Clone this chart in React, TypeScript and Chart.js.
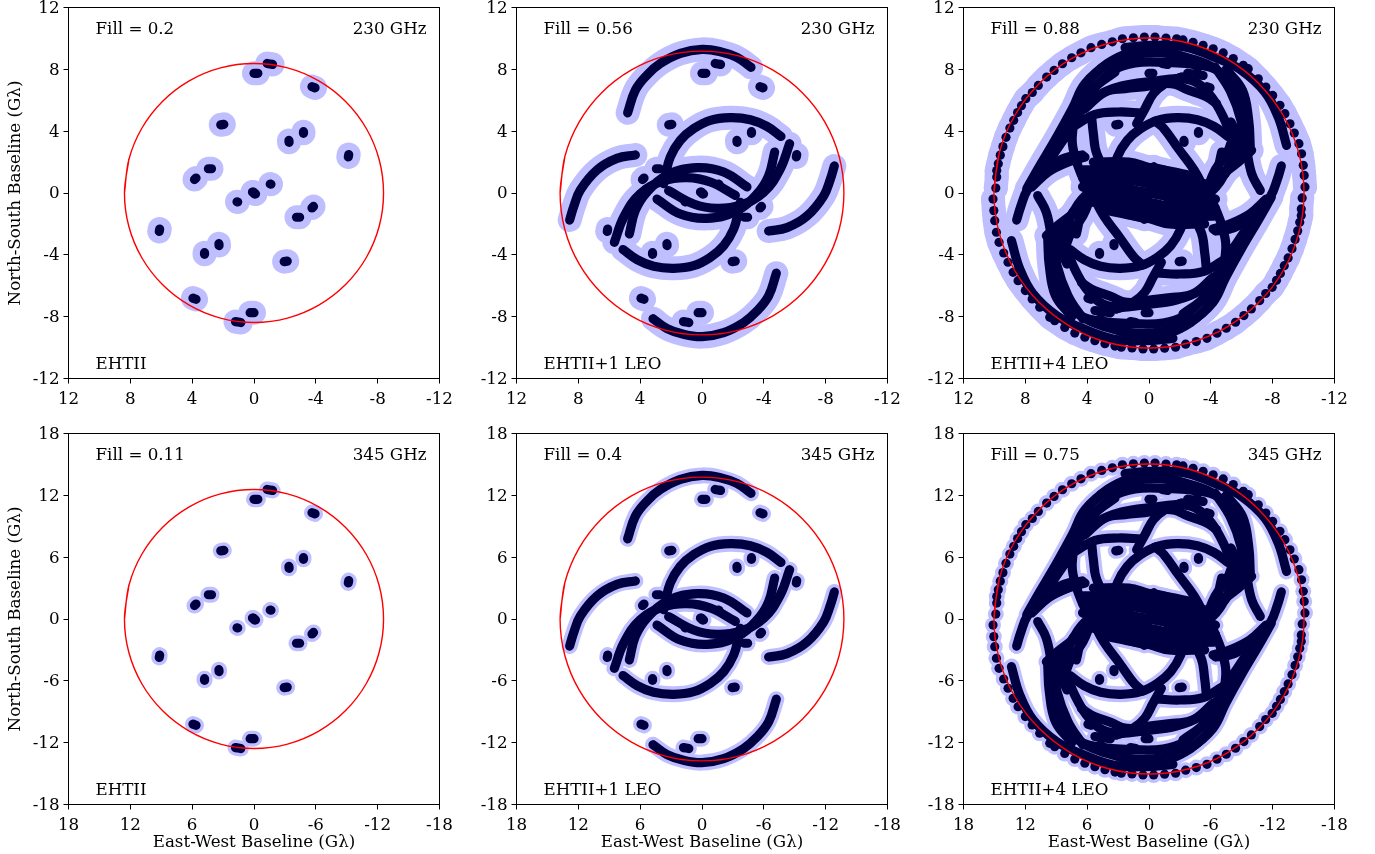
import React, { useEffect, useRef } from "react";
import { Chart, registerables } from "chart.js";

Chart.register(...registerables);

type Track = number[][];

// Values are read in 230 GHz baseline units (G-lambda). Each track also has its conjugate (-u,-v).
const eht2Tracks: Track[] = [
  [[-0.85, 8.38], [-1.2, 8.32]],
  [[0.0, 7.74], [-0.25, 7.74]],
  [[-3.75, 6.88], [-3.95, 6.8]],
  [[2.15, 4.41], [1.95, 4.44]],
  [[-3.2, 3.97], [-3.2, 3.86]],
  [[-2.26, 3.4], [-2.27, 3.28]],
  [[-6.13, 2.49], [-6.1, 2.33]],
  [[2.95, 1.57], [2.75, 1.57]],
  [[3.85, 0.87], [3.75, 0.97]],
  [[-1.05, 0.58], [-1.1, 0.57]],
  [[0.04, 0.06], [-0.1, -0.06]],
];

const leoOneTracks: Track[] = [
  [[4.81, 5.19], [4.31, 6.66], [3.56, 7.63], [2.69, 8.38], [1.4, 9.03], [0, 9.29], [-1.19, 9.14], [-2.26, 8.77], [-3.17, 8.13]],
  [[-5.11, 3.66], [-4.2, 4.31], [-3.13, 4.74], [-1.83, 4.87], [-0.54, 4.7], [0.54, 4.16], [1.4, 3.41], [2.05, 2.33], [2.37, 1.14], [2.48, 0.6]],
  [[4.7, -2.65], [4.31, -1.12], [3.56, 0.06], [2.16, 1.21], [0.32, 1.64], [-1.4, 1.36], [-2.91, 0.39]],
  [[5.67, -3.19], [5.06, -1.55], [3.99, -0.04], [2.48, 0.78], [0.97, 0.99], [-0.54, 0.71], [-2.16, -0.15]],
  [[4.31, 2.46], [5.5, 2.24], [6.79, 1.49], [7.87, 0.19], [8.3, -0.88], [8.56, -1.75]],
];

const leoFourTracks: Track[] = [
  [[7.91, 0.28], [7.05, 1.79], [5.97, 3.62], [4.96, 5.45], [4.14, 7.07], [2.63, 8.36], [0.91, 8.96], [-1.03, 9.05], [-2.76, 8.68], [-4.27, 8.04], [-5.78, 6.64]],
  [[5.3, 3.6], [4.46, 5.45], [3.6, 6.75], [2.2, 7.82]],
  [[6.6, 1.9], [5.7, 3.2], [4.9, 4.4]],
  [[1.55, 9.4], [-0.2, 9.55], [-2.33, 9.44], [-4.48, 8.68], [-5.99, 7.93], [-7.5, 6.53], [-8.36, 4.91], [-8.9, 3.08]],
  [[4.57, 5.13], [3.28, 6.31], [1.77, 6.92], [-0.17, 7.22], [-2.11, 7.39], [-3.19, 7.07], [-4.05, 6.21], [-4.81, 4.91], [-5.24, 3.84]],
  [[4.14, 5.45], [2.84, 6.53], [1.55, 6.75], [-0.17, 6.96], [-2.11, 7.5]],
  [[-2.5, 7.75], [-3.5, 7.6]],
  [[3.71, 6.64], [2.31, 7.93], [0.91, 8.41], [-0.82, 8.46], [-3.4, 8.25], [-4.59, 7.82], [-5.56, 6.64], [-6.1, 4.91], [-6.31, 2.96], [-6.64, 1.25], [-7.2, 0.17]],
  [[-4.27, 8.15], [-5.24, 6.64], [-5.95, 4.7], [-6.1, 3.2]],
  [[-5.0, 8.0], [-6.05, 6.64], [-6.45, 4.7], [-6.55, 3.0]],
  [[-0.82, 7.11], [-1.68, 7.03], [-2.33, 6.75], [-3.08, 6.47], [-3.73, 6.21], [-4.37, 5.78]],
  [[-2.11, 7.5], [-1.03, 7.07], [-0.28, 6.42], [0.26, 5.45], [0.8, 4.48]],
  [[4.78, 4.37], [3.49, 5.09], [1.98, 5.24], [0.47, 5.17]],
  [[3.71, 4.91], [3.6, 3.84], [3.38, 2.54], [2.63, 1.25], [1.55, 0.17]],
  [[4.89, 4.48], [4.96, 3.19], [4.57, 1.68], [3.92, 0.17]],
  [[7.59, 0.39], [6.51, 1.36], [5.22, 2.0], [4.14, 2.33]],
  [[-0.39, 4.66], [-0.97, 4.16], [-1.9, 2.87], [-2.93, 1.47], [-3.62, 0.17]],
  [[-3.19, 0.17], [-4.48, 1.03], [-5.78, 2.0], [-6.64, 2.76]],
  [[-5.45, 3.62], [-5.02, 2.54], [-4.27, 1.47], [-3.73, 0.17]],
  [[-5.3, 4.6], [-5.85, 3.3], [-5.5, 2.2], [-4.9, 1.2]],
  [[3.6, 2.0], [1.3, 2.0], [0, 1.65], [-1.4, 1.4], [-2.6, 1.15]],
  [[4.2, 1.5], [2, 1.5], [-0.5, 1.1], [-2, 0.9], [-3.6, 0.6]],
  [[4.3, 1.0], [2, 0.95], [-0.5, 0.5], [-3, 0.05], [-4.3, -0.4]],
  [[4.0, 0.3], [2, 0.3], [0, 0], [-2, -0.3], [-4, -0.3]],
  [[3.5, 2.0], [2.5, 1.0], [1.5, 0.2], [0.5, -0.6], [-0.5, -1.5]],
  [[1.8, 1.9], [0.8, 1.3], [-0.2, 0.5], [-1.2, -0.3], [-2.4, -1.0]],
  [[-0.3, 1.7], [-1.0, 1.2], [-1.9, 0.4], [-2.9, -0.2]],
  [[3.6, 0.9], [3.2, 0.1], [2.5, -0.7]],
];

const outerRingPoints: Track = [
  [9.91, 0.32], [9.85, 1.03], [9.85, 1.45], [9.75, 1.9], [9.62, 2.45], [9.45, 3.0], [9.25, 3.6], [9.0, 4.2], [8.75, 4.7], [8.5, 5.2], [8.25, 5.65], [7.97, 6.1], [7.55, 6.5], [7.16, 6.96], [6.62, 7.5], [6.14, 7.93],
  [5.6, 8.36], [5.0, 8.75], [4.4, 9.07], [3.75, 9.4], [3.06, 9.61], [2.37, 9.78], [1.72, 9.98], [1.01, 10.04], [0.3, 10.09], [-0.39, 10.09],
  [-1.1, 10.02], [-1.79, 9.98], [-2.2, 9.9], [-2.85, 9.75], [-3.5, 9.55], [-4.15, 9.33], [-4.8, 9.06], [-5.45, 8.7], [-6.1, 8.26], [-6.42, 8.04], [-7.07, 7.39],
  [-7.56, 6.85], [-8.0, 6.31], [-8.47, 5.67], [-8.79, 5.13], [-9.12, 4.48], [-9.4, 3.88], [-9.7, 3.19], [-9.87, 2.54], [-9.98, 1.79], [-10.04, 1.14], [-10.09, 0.39],
];

// Unit directions for the red maximum-baseline circle.
const unitCircle: Track = [
  [1, 0], [0.966, 0.259], [0.866, 0.5], [0.707, 0.707], [0.5, 0.866], [0.259, 0.966], [0, 1], [-0.259, 0.966], [-0.5, 0.866], [-0.707, 0.707], [-0.866, 0.5], [-0.966, 0.259],
  [-1, 0], [-0.966, -0.259], [-0.866, -0.5], [-0.707, -0.707], [-0.5, -0.866], [-0.259, -0.966], [0, -1], [0.259, -0.966], [0.5, -0.866], [0.707, -0.707], [0.866, -0.5], [0.966, -0.259],
  [1, 0], [0.966, 0.259],
];

const fillLabels = ["Fill = 0.2", "Fill = 0.56", "Fill = 0.88", "Fill = 0.11", "Fill = 0.4", "Fill = 0.75"];
const arrayLabels = ["EHTII", "EHTII+1 LEO", "EHTII+4 LEO", "EHTII", "EHTII+1 LEO", "EHTII+4 LEO"];
const freqLabels = ["230 GHz", "345 GHz"];
const freqFactor = [1, 1.5];
const axisLimit = [12, 18];
const axisStep = [4, 6];
const circleRadius = [8.38, 9.18, 10.03];
const xTitle = "East-West Baseline (G\u03bb)";
const yTitle = "North-South Baseline (G\u03bb)";

const FONT = '"DejaVu Serif"';
const FONT_SIZE = 16.7;
const HALO = "#bfbfff";
const DARK = "#000040";
const plotLeft = [68, 516, 963];
const plotTop = [7, 433];
const PLOT = 371;
const MARGIN_LEFT = 68;
const MARGIN_TOP = 14;
const MARGIN_RIGHT = 32;
const MARGIN_BOTTOM = 49;

function pts(track: Track, k: number) {
  return track.map(([u, v]) => ({ x: u * k, y: v * k }));
}

function buildDatasets(col: number, row: number) {
  const f = freqFactor[row];
  const haloWidth = row === 0 ? 24 : 16;
  const tracks: Track[] = [...eht2Tracks];
  if (col >= 1) tracks.push(...leoOneTracks);
  if (col === 2) tracks.push(...leoFourTracks);
  const sets: any[] = [];
  const line = (data: any[], color: string, width: number, order: number) => ({
    data,
    showLine: true,
    borderColor: color,
    borderWidth: width,
    borderCapStyle: "round",
    borderJoinStyle: "round",
    tension: 0.4,
    pointRadius: 0,
    order,
  });
  for (const t of tracks) {
    for (const s of [f, -f]) {
      sets.push(line(pts(t, s), HALO, haloWidth, 3));
      sets.push(line(pts(t, s), DARK, 9.2, 2));
    }
  }
  if (col === 2) {
    for (const s of [f, -f]) {
      if (row === 0) sets.push(line(pts(outerRingPoints, s), HALO, haloWidth, 3));
      sets.push({ data: pts(outerRingPoints, s), showLine: false, pointRadius: haloWidth / 2, pointBackgroundColor: HALO, pointBorderWidth: 0, order: 3 });
      sets.push({ data: pts(outerRingPoints, s), showLine: false, pointRadius: 4.6, pointBackgroundColor: DARK, pointBorderWidth: 0, order: 2 });
    }
  }
  sets.push({
    data: pts(unitCircle, circleRadius[col] * f),
    showLine: true,
    borderColor: "#ff0000",
    borderWidth: 1.4,
    tension: 0.337,
    pointRadius: 0,
    order: 1,
  });
  return sets;
}

function Panel({ col, row }: { col: number; row: number }) {
  const ref = useRef<HTMLCanvasElement>(null);
  useEffect(() => {
    const limit = axisLimit[row];
    const idx = row * 3 + col;
    const tickFont = { family: FONT, size: FONT_SIZE };
    const tickBase = { color: "#000", font: tickFont, stepSize: axisStep[row], maxRotation: 0, autoSkip: false, callback: (v: any) => String(v) };
    const grid = { drawOnChartArea: false, drawTicks: true, tickLength: 5, color: "#000", lineWidth: 1 };
    const chart = new Chart(ref.current as HTMLCanvasElement, {
      type: "scatter",
      data: { datasets: buildDatasets(col, row) },
      options: {
        animation: false,
        responsive: false,
        maintainAspectRatio: false,
        layout: { padding: { top: MARGIN_TOP + 0.5, right: MARGIN_RIGHT - 0.5, left: 0, bottom: 0 } },
        plugins: { legend: { display: false }, tooltip: { enabled: false } },
        scales: {
          x: {
            type: "linear",
            reverse: true,
            min: -limit,
            max: limit,
            ticks: { ...tickBase, padding: 6 },
            grid,
            border: { display: true, color: "#000", width: 1 },
            title: { display: row === 1, text: xTitle, color: "#000", font: tickFont, padding: { top: 0, bottom: 0 } },
            afterFit: (s: any) => { s.height = MARGIN_BOTTOM - 0.5; },
          },
          y: {
            type: "linear",
            min: -limit,
            max: limit,
            ticks: { ...tickBase, padding: 4, labelOffset: 1 },
            grid,
            border: { display: true, color: "#000", width: 1 },
            title: { display: col === 0, text: yTitle, color: "#000", font: tickFont, padding: { top: 6, bottom: 0 } },
            afterFit: (s: any) => { s.width = MARGIN_LEFT + 0.5; },
          },
        },
      } as any,
      plugins: [
        {
          id: "panelDecor",
          afterDraw(c: any) {
            const { left, right, top, bottom } = c.chartArea;
            const ctx = c.ctx;
            ctx.save();
            ctx.strokeStyle = "#000";
            ctx.lineWidth = 1;
            ctx.strokeRect(Math.floor(left) + 0.5, Math.floor(top) + 0.5, PLOT, PLOT);
            ctx.fillStyle = "#000";
            ctx.font = `${FONT_SIZE}px ${FONT}`;
            ctx.textBaseline = "alphabetic";
            ctx.textAlign = "left";
            ctx.fillText(fillLabels[idx], left + 27, top + 26);
            ctx.fillText(arrayLabels[idx], left + 27, bottom - 10);
            ctx.textAlign = "right";
            ctx.fillText(freqLabels[row], right - 13, top + 26);
            ctx.restore();
          },
        },
      ],
    } as any);
    return () => chart.destroy();
  }, [col, row]);
  return (
    <canvas
      ref={ref}
      width={MARGIN_LEFT + PLOT + MARGIN_RIGHT}
      height={MARGIN_TOP + PLOT + MARGIN_BOTTOM}
      style={{ position: "absolute", left: plotLeft[col] - MARGIN_LEFT, top: plotTop[row] - MARGIN_TOP }}
    />
  );
}

export default function App() {
  return (
    <div style={{ position: "absolute", left: 0, top: 0, width: 1375, height: 854, background: "#fff", overflow: "hidden" }}>
      {[0, 1].map((row) => [0, 1, 2].map((col) => <Panel key={`${row}-${col}`} col={col} row={row} />))}
    </div>
  );
}
